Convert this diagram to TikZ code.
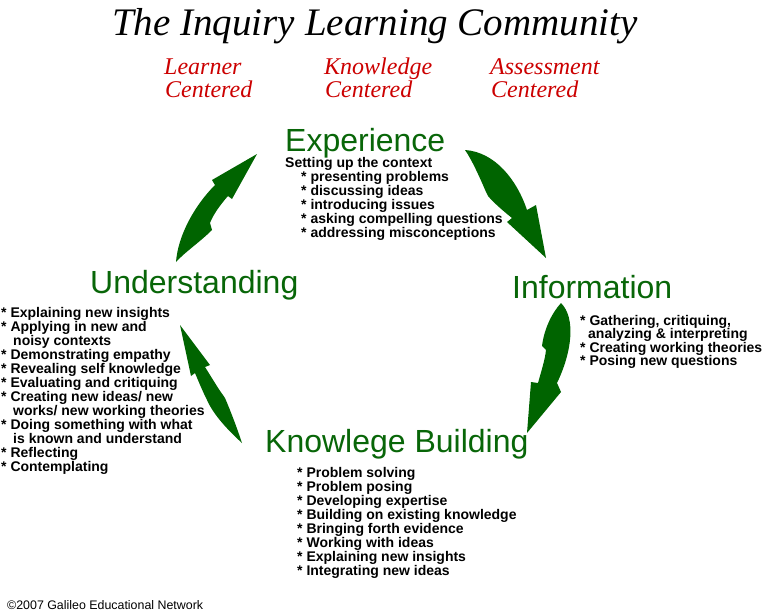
\documentclass[tikz,border=0pt]{standalone}
\usepackage{fontspec}
\setmainfont{Liberation Sans}
\newfontfamily\callfont{Liberation Serif}
\usetikzlibrary{positioning}
\definecolor{cyclegreen}{RGB}{0,100,0}
\definecolor{headgreen}{RGB}{8,102,8}
\definecolor{centred}{RGB}{204,0,0}

\begin{document}
\begin{tikzpicture}[x=1pt, y=-1pt, inner sep=0pt,
  title/.style={font=\callfont\itshape\fontsize{39}{39}\selectfont, anchor=base west},
  focus/.style={font=\callfont\itshape\fontsize{24}{24}\selectfont, text=centred, anchor=base west},
  phase/.style={font=\fontsize{32}{32}\selectfont, text=headgreen, anchor=base west},
  item/.style={font=\bfseries\fontsize{14}{14}\selectfont, anchor=base west},
  cyclearrow/.style={fill=cyclegreen}]
  \path[use as bounding box, fill=white] (0,0) rectangle (762,611);

  \node[title] (title) at (112,35) {The Inquiry Learning Community};
  \foreach \x/\name in {164/Learner,324/Knowledge,490/Assessment}{
    \node[focus] (\name) at (\x,74) {\name};
    \node[focus] (\name-c) at (\x+1,97) {Centered};}

  % the four phases
  \node[phase] (exp) at (285,151) {Experience};
  \node[phase] (inf) at (512,298) {Information};
  \node[phase] (kb) at (265,452) {Knowlege Building};
  \node[phase] (und) at (90,293) {Understanding};

  \node[item] (exp-0) at (285,167) {Setting up the context};
  \foreach \txt [count=\k] in {presenting problems, discussing ideas, introducing issues, asking compelling questions, addressing misconceptions}
    \node[item] (exp-\k) at (301,{167+14*\k}) {* \txt};

  \foreach \dx/\txt [count=\k from 0] in {0/{* Gathering, critiquing,}, 8/{analyzing \& interpreting}, 0/{* Creating working theories}, 0/{* Posing new questions}}
    \node[item] (inf-\k) at (580+\dx,{325+13.5*\k}) {\txt};

  \foreach \dx/\txt [count=\k from 0] in {0/{* Explaining new insights}, 0/{* Applying in new and}, 12/{noisy contexts}, 0/{* Demonstrating empathy}, 0/{* Revealing self knowledge}, 0/{* Evaluating and critiquing}, 0/{* Creating new ideas/ new}, 12/{works/ new working theories}, 0/{* Doing something with what}, 12/{is known and understand}, 0/{* Reflecting}, 0/{* Contemplating}}
    \node[item] (und-\k) at (1+\dx,{317+14*\k}) {\txt};

  \foreach \txt [count=\k from 0] in {Problem solving, Problem posing, Developing expertise, Building on existing knowledge, Bringing forth evidence, Working with ideas, Explaining new insights, Integrating new ideas}
    \node[item] (kb-\k) at (297,{477+14*\k}) {* \txt};

  \node[font=\fontsize{12.4}{12.4}\selectfont, anchor=base west] (copy) at (7,609) {\textcopyright 2007 Galileo Educational Network};

  % Understanding -> Experience
  \fill[cyclearrow] (176,262) .. controls (178,235) and (195,205) .. (215,185) -- (212,180) -- (257,154) -- (232,199) -- (228,196) .. controls (220,205) and (213,215) .. (210,223) -- (212,230) .. controls (200,242) and (185,252) .. (176,262) -- cycle;
  % Experience -> Information
  \fill[cyclearrow] (465,150) .. controls (495,152) and (517,180) .. (527,210) -- (536,205) -- (546,258) -- (507,222) -- (512,218) .. controls (502,210) and (493,202) .. (488,196) -- (486,192) .. controls (480,178) and (472,160) .. (465,150) -- cycle;
  % Information -> Knowlege Building
  \fill[cyclearrow] (561,303) .. controls (576,318) and (572,352) .. (557,383) -- (561,392) -- (527,433) -- (531,382) -- (538,383) .. controls (541,372) and (545,360) .. (546,350) -- (542,346) .. controls (544,330) and (551,314) .. (561,303) -- cycle;
  % Knowlege Building -> Understanding
  \fill[cyclearrow] (180,325) -- (210,365) -- (205,367) .. controls (212,378) and (219,390) .. (223,395) -- (225,398) .. controls (231,412) and (237,428) .. (242,443) .. controls (230,432) and (214,416) .. (207,400) .. controls (202,390) and (198,380) .. (195,373) -- (191,376) -- cycle;
\end{tikzpicture}
\end{document}
